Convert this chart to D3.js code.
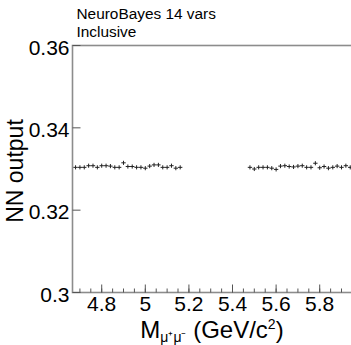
<!DOCTYPE html>
<html>
<head>
<meta charset="utf-8">
<script src="https://cdn.jsdelivr.net/npm/d3@7"></script>
<style>
  body { margin: 0; background: #fff; }
  svg { display: block; font-family: "Liberation Sans", Arial, sans-serif; }
</style>
</head>
<body>
<div id="chart"></div>
<script>
// bin centres (GeV/c^2), two sidebands
var massLeft = [4.68, 4.70, 4.72, 4.74, 4.76, 4.78, 4.80, 4.82, 4.84, 4.86, 4.88, 4.90, 4.92,
  4.94, 4.96, 4.98, 5.00, 5.02, 5.04, 5.06, 5.08, 5.10, 5.12, 5.14, 5.16];
var nnLeft = [0.3304, 0.3304, 0.3304, 0.3308, 0.3308, 0.3304, 0.3308, 0.3308, 0.3307, 0.3304, 0.3304, 0.3315, 0.3306,
  0.3306, 0.3304, 0.3304, 0.3302, 0.3307, 0.3310, 0.3310, 0.3304, 0.3304, 0.3308, 0.3302, 0.3304];
var massRight = [5.48, 5.50, 5.52, 5.54, 5.56, 5.58, 5.60, 5.62, 5.64, 5.66, 5.68, 5.70, 5.72,
  5.74, 5.76, 5.78, 5.80, 5.82, 5.84, 5.86, 5.88, 5.90, 5.92, 5.94, 5.96];
var nnRight = [0.3304, 0.3300, 0.3304, 0.3304, 0.3304, 0.3302, 0.3299, 0.3307, 0.3308, 0.3306, 0.3305, 0.3307, 0.3308,
  0.3304, 0.3304, 0.3314, 0.3303, 0.3306, 0.3302, 0.3304, 0.3307, 0.3304, 0.3308, 0.3304, 0.3304];
var nnErr = 0.0005;
var binHalf = 0.01;

var xTicks = [4.8, 5.0, 5.2, 5.4, 5.6, 5.8];
var xTickLabels = ["4.8", "5", "5.2", "5.4", "5.6", "5.8"];
var yTicks = [0.30, 0.32, 0.34, 0.36];
var yTickLabels = ["0.3", "0.32", "0.34", "0.36"];

var W = 351, H = 345;
var padL = 72.5, padT = 45.5, padB = 292.5;

var svg = d3.select("#chart").append("svg")
  .attr("width", W).attr("height", H);

var x = d3.scaleLinear().domain([4.666, 6.0]).range([padL, padL + 1.334 * 218]);
var y = d3.scaleLinear().domain([0.30, 0.36]).range([padB, padT]);

// frame
svg.append("rect")
  .attr("x", x(4.666)).attr("y", padT)
  .attr("width", x(6.0) - x(4.666)).attr("height", padB - padT)
  .attr("fill", "none").attr("stroke", "#8c8c8c").attr("stroke-width", 1.6);

// x ticks, major + minor, pointing up into the frame
var minorX = d3.range(4.70, 6.0, 0.05).map(function(d) { return +d.toFixed(2); });
svg.selectAll(".xminor").data(minorX).enter().append("line")
  .attr("x1", function(d) { return x(d); }).attr("x2", function(d) { return x(d); })
  .attr("y1", padB).attr("y2", padB - 4)
  .attr("stroke", "#555").attr("stroke-width", 1);
svg.selectAll(".xmajor").data(xTicks).enter().append("line")
  .attr("x1", function(d) { return x(d); }).attr("x2", function(d) { return x(d); })
  .attr("y1", padB).attr("y2", padB - 8)
  .attr("stroke", "#555").attr("stroke-width", 1);
svg.selectAll(".xlab").data(xTicks).enter().append("text")
  .attr("x", function(d) { return x(d); }).attr("y", 311)
  .attr("text-anchor", "middle").attr("font-size", 21)
  .text(function(d, i) { return xTickLabels[i]; });

// y ticks
svg.selectAll(".ymajor").data(yTicks).enter().append("line")
  .attr("x1", padL).attr("x2", padL + 8)
  .attr("y1", function(d) { return y(d); }).attr("y2", function(d) { return y(d); })
  .attr("stroke", "#555").attr("stroke-width", 1);
svg.selectAll(".ylab").data(yTicks).enter().append("text")
  .attr("x", padL - 3).attr("y", function(d) { return y(d) + 9; })
  .attr("text-anchor", "end").attr("font-size", 21)
  .text(function(d, i) { return yTickLabels[i]; });

// points with error bars
function drawPoints(mass, vals) {
  var g = svg.append("g").attr("stroke", "#222").attr("stroke-width", 1);
  mass.forEach(function(m, i) {
    g.append("line")
      .attr("x1", x(m - binHalf)).attr("x2", x(m + binHalf))
      .attr("y1", y(vals[i])).attr("y2", y(vals[i]));
    g.append("line")
      .attr("x1", x(m)).attr("x2", x(m))
      .attr("y1", y(vals[i] - nnErr)).attr("y2", y(vals[i] + nnErr));
  });
}
drawPoints(massLeft, nnLeft);
drawPoints(massRight, nnRight);

// titles
svg.append("text").attr("x", 76.5).attr("y", 19).attr("font-size", 15.4).text("NeuroBayes 14 vars");
svg.append("text").attr("x", 76.5).attr("y", 37).attr("font-size", 15.4).text("Inclusive");

svg.append("text")
  .attr("transform", "translate(23,171) rotate(-90)")
  .attr("text-anchor", "middle").attr("font-size", 23)
  .text("NN output");

var xt = svg.append("text").attr("x", 212).attr("y", 338)
  .attr("text-anchor", "middle").attr("font-size", 24);
xt.append("tspan").text("M");
xt.append("tspan").attr("font-size", 14).attr("dy", 4).text("μ⁺μ⁻");
xt.append("tspan").attr("dy", -4).text(" (GeV/c");
xt.append("tspan").attr("font-size", 14).attr("dy", -9).text("2");
xt.append("tspan").attr("dy", 9).text(")");
</script>
</body>
</html>
